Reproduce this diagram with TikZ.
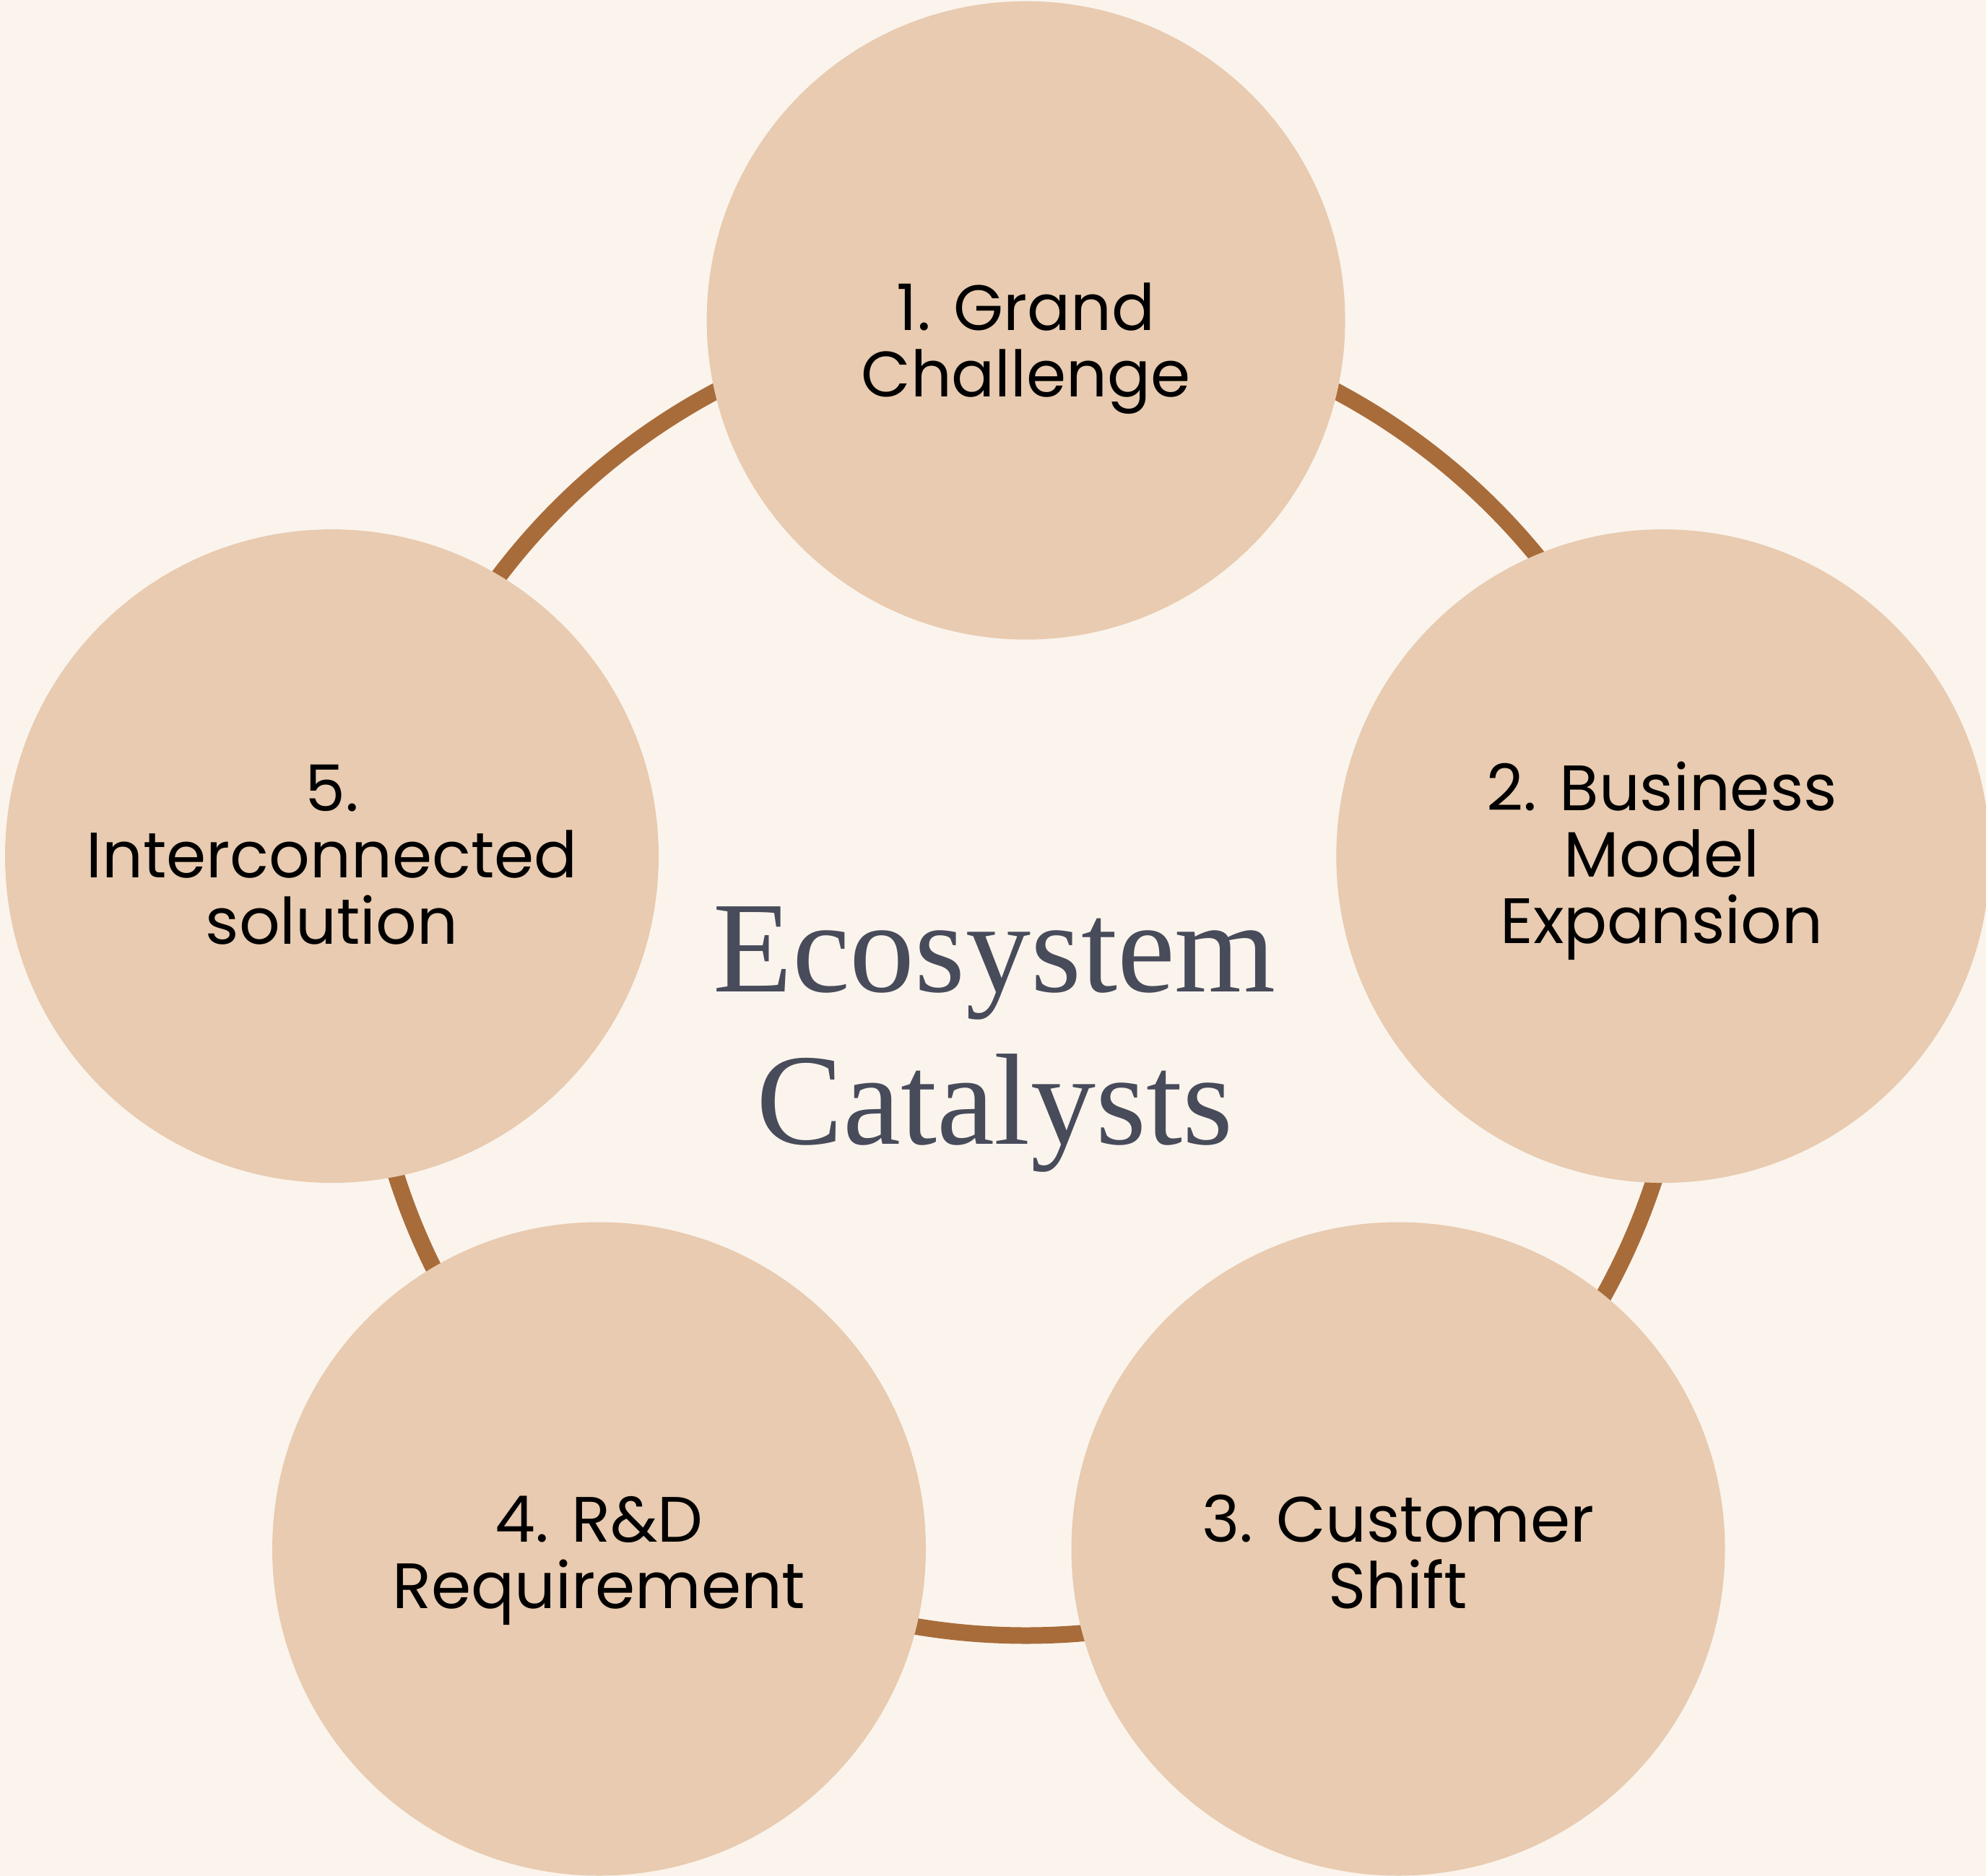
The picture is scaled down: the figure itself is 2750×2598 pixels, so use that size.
\documentclass[tikz,border=0pt]{standalone}
\usepackage{fontspec}
\setmainfont{Liberation Serif}
\newfontfamily\labelfont{Poppins}
\newfontfamily\titlefont{Liberation Serif}
\definecolor{bgcol}{HTML}{FBF4ED}
\definecolor{circcol}{HTML}{E8CBB0}
\definecolor{ringcol}{HTML}{A86C3A}
\definecolor{titlecol}{HTML}{474B5A}
\begin{document}
\begin{tikzpicture}[x=0.25pt,y=-0.25pt,
  bubble/.style={circle,fill=circcol,draw=none,inner sep=0pt},
  lbl/.style={font=\labelfont\fontsize{22.2pt}{23pt}\selectfont,align=center,anchor=base,inner sep=0pt,text=black},
  ttl/.style={font=\titlefont\fontsize{45pt}{52.75pt}\selectfont,align=center,anchor=base,inner sep=0pt,text=titlecol}]
\fill[bgcol] (0,0) rectangle (2750,2598);
\useasboundingbox (0,0) rectangle (2750,2598);
\clip (0,0) rectangle (2750,2598);
\coordinate (ringc) at (1420.6,1350);
\draw[ringcol,line width=5.75pt] (ringc) circle[radius=915];
\node[bubble,minimum size=221pt] (c1) at (1420.6,443.7) {};
\node[bubble,minimum size=226.25pt] (c2) at (2302.8,1185.6) {};
\node[bubble,minimum size=226.25pt] (c3) at (1936,2145) {};
\node[bubble,minimum size=226.25pt] (c4) at (829.5,2145) {};
\node[bubble,minimum size=226.25pt] (c5) at (459.5,1185.6) {};
\node[lbl] (t1) at (1420.6,549.3) {1. Grand\\Challenge};
\node[lbl] (t2) at (2301,1306.7) {2. Business\\Model\\Expansion};
\node[lbl] (t3) at (1936,2227) {3. Customer\\Shift};
\node[lbl] (t4) at (829.5,2227) {4. R\&D\\Requirement};
\node[lbl] (t5) at (459.5,1307) {5.\\Interconnected\\solution};
\node[ttl] (title) at (1377,1584) {Ecosystem\\Catalysts};
\end{tikzpicture}
\end{document}
